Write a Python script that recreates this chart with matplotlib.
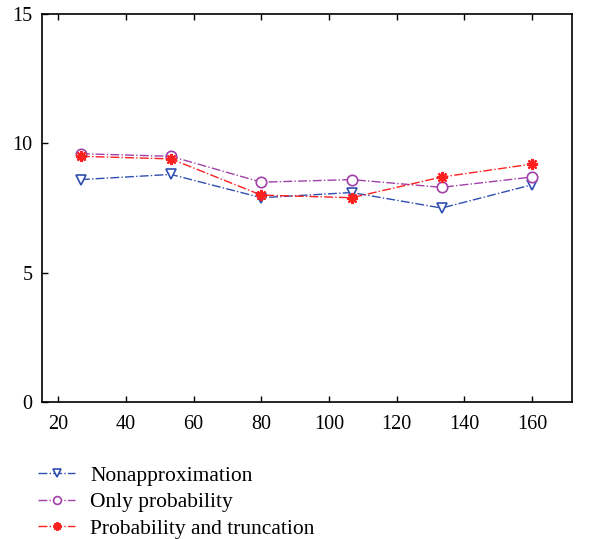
#!/usr/bin/env python3
# plot.py - three approximation variants, line chart

import matplotlib
matplotlib.use('Agg')
import matplotlib.pyplot as plt

# ----------------------------
# Data
# ----------------------------
x_vals = [26.7, 53.3, 80, 106.7, 133.3, 160]
nonapprox = [8.6, 8.8, 7.9, 8.1, 7.5, 8.4]
only_prob = [9.6, 9.5, 8.5, 8.6, 8.3, 8.7]
prob_trunc = [9.5, 9.4, 8.0, 7.9, 8.7, 9.2]

labels = ['Nonapproximation', 'Only probability', 'Probability and truncation']
x_ticks = [20, 40, 60, 80, 100, 120, 140, 160]
y_ticks = [0, 5, 10, 15]

plt.rcParams['font.family'] = ['Liberation Serif', 'DejaVu Serif']

fig = plt.figure(figsize=(5.95, 5.39), dpi=100)
ax = fig.add_axes([0.0706, 0.254, 0.8907, 0.72])

ax.plot(x_vals, nonapprox, color='#2f4fb0', linestyle='-.', linewidth=1,
        marker='v', markersize=7.5, markerfacecolor='white',
        markeredgecolor='#2f4fb0', markeredgewidth=1.2, label=labels[0])
ax.plot(x_vals, only_prob, color='#a040a8', linestyle='-.', linewidth=1,
        marker='o', markersize=7.5, markerfacecolor='white',
        markeredgecolor='#a040a8', markeredgewidth=1.2, label=labels[1])
ax.plot(x_vals, prob_trunc, color='#ff2020', linestyle='-.', linewidth=1,
        marker=(8, 2, 0), markersize=8, markeredgecolor='#ff2020',
        markeredgewidth=1.6, label=labels[2])

ax.set_xlim(15.2, 171.8)
ax.set_ylim(0, 15)
ax.set_xticks(x_ticks)
ax.set_yticks(y_ticks)
ax.tick_params(direction='in', length=4, width=1, top=True, right=False,
               labelsize=14.5)
ax.tick_params(axis='x', pad=9)
ax.tick_params(axis='y', pad=7)
for s in ax.spines.values():
    s.set_linewidth(1.2)

fig.legend(loc='upper left', bbox_to_anchor=(0.05, 0.152), frameon=False,
           fontsize=15.5, handlelength=1.7, handletextpad=0.7,
           labelspacing=0.3, markerscale=0.75, borderaxespad=0)

fig.savefig('out.png', dpi=100)
